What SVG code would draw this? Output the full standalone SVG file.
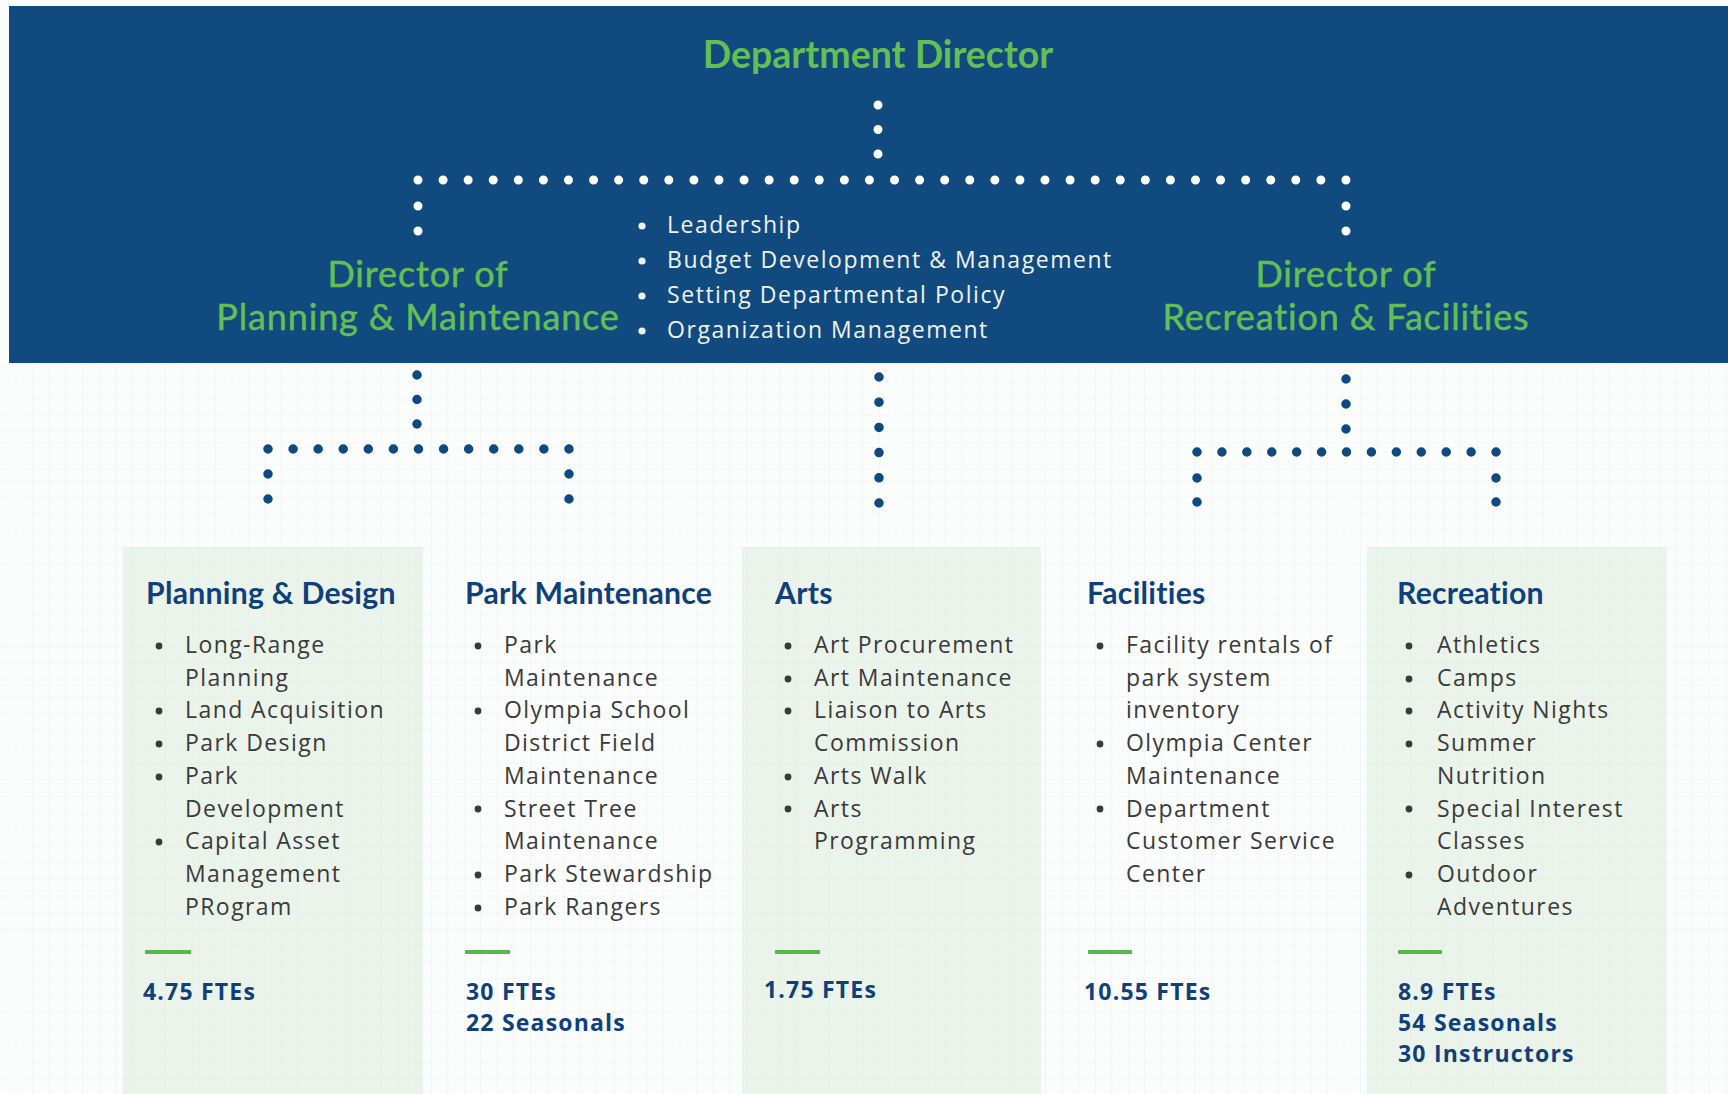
<svg xmlns="http://www.w3.org/2000/svg" width="1728" height="1094" viewBox="0 0 1728 1094">
  <defs>
    <pattern id="grid" width="16.6" height="16.6" patternUnits="userSpaceOnUse">
      <path d="M16.6 0V16.6H0" fill="none" stroke="#dfe5ea" stroke-width="1" opacity="0.55"/>
    </pattern>
    <style>
      .title { font-family: Lato, "Liberation Sans", sans-serif; fill: #62bf55; }
      .sub { stroke: #62bf55; stroke-width: 0.5px; }
      .lead { font-family: "Open Sans", "Liberation Sans", sans-serif; font-size: 23px; letter-spacing: 1.55px; fill: #eef2f7; }
      .head { font-family: Lato, "Liberation Sans", sans-serif; font-weight: 700; font-size: 30.2px; letter-spacing: 0.25px; fill: #0f3f7c; }
      .item { font-family: "Open Sans", "Liberation Sans", sans-serif; font-size: 23px; letter-spacing: 1.42px; fill: #3a3a3a; }
      .fte { font-family: "Open Sans", "Liberation Sans", sans-serif; font-weight: 700; font-size: 23px; letter-spacing: 1.2px; fill: #10407c; }
      .bul { fill: #3a3a3a; }
      .wbul { fill: #eef2f7; }
      .rule { stroke: #55b94f; stroke-width: 4; }
      .col { fill: #ebf4ea; }
      .wdots { fill: none; stroke: #ffffff; stroke-width: 9; stroke-linecap: round; }
      .bdots { fill: none; stroke: #0e4a82; stroke-width: 9.5; stroke-linecap: round; }
    </style>
  </defs>

  <!-- page background and grid -->
  <rect x="0" y="0" width="1728" height="1094" fill="#fbfcfc"/>
  <rect class="col" x="123" y="547" width="300" height="547"/>
  <rect class="col" x="742" y="547" width="299" height="547"/>
  <rect class="col" x="1367" y="547" width="300" height="547"/>
  <rect x="0" y="363" width="1728" height="731" fill="url(#grid)"/>

  <!-- header band -->
  <rect x="9" y="6" width="1719" height="357" fill="#114a7e"/>

  <!-- connectors: each dotted run is a zero-length dash pattern, extended
       a little past the last dot so the final dot is always drawn -->
  <g id="connectors">
    <path class="wdots" d="M878 105V155" stroke-dasharray="0 24.5"/>
    <path class="wdots" d="M418 180H1347" stroke-dasharray="0 25.08"/>
    <path class="wdots" d="M418 206V232" stroke-dasharray="0 25"/>
    <path class="wdots" d="M1346 206V232" stroke-dasharray="0 25"/>

    <path class="bdots" d="M417 375V425" stroke-dasharray="0 24.5"/>
    <path class="bdots" d="M268 449H570" stroke-dasharray="0 25.08"/>
    <path class="bdots" d="M268 474V500" stroke-dasharray="0 25"/>
    <path class="bdots" d="M569 474V500" stroke-dasharray="0 25"/>

    <path class="bdots" d="M879 377V504" stroke-dasharray="0 25.2"/>

    <path class="bdots" d="M1346 379V430" stroke-dasharray="0 25"/>
    <path class="bdots" d="M1197 452H1497" stroke-dasharray="0 24.92"/>
    <path class="bdots" d="M1197 478V503" stroke-dasharray="0 24"/>
    <path class="bdots" d="M1496 478V503" stroke-dasharray="0 24"/>
  </g>

  <!-- top level -->
  <g id="department-director">
    <text class="title" x="878" y="68" font-size="37.5" font-weight="700" text-anchor="middle">Department Director</text>
  </g>

  <g id="director-planning">
    <text class="title sub" x="418" y="286.5" font-size="36" letter-spacing="0.85" text-anchor="middle">Director of</text>
    <text class="title sub" x="418" y="330" font-size="36" letter-spacing="0.85" text-anchor="middle">Planning &amp; Maintenance</text>
  </g>

  <g id="director-recreation">
    <text class="title sub" x="1346" y="286.5" font-size="36" letter-spacing="0.85" text-anchor="middle">Director of</text>
    <text class="title sub" x="1346" y="330" font-size="36" letter-spacing="0.85" text-anchor="middle">Recreation &amp; Facilities</text>
  </g>

  <g id="director-duties">
    <circle class="wbul" cx="642" cy="226" r="3.6"/>
    <circle class="wbul" cx="642" cy="261" r="3.6"/>
    <circle class="wbul" cx="642" cy="296" r="3.6"/>
    <circle class="wbul" cx="642" cy="331" r="3.6"/>
    <text class="lead" x="667" y="233">Leadership</text>
    <text class="lead" x="667" y="268">Budget Development &amp; Management</text>
    <text class="lead" x="667" y="303">Setting Departmental Policy</text>
    <text class="lead" x="667" y="338">Organization Management</text>
  </g>

  <!-- divisions -->
  <g id="planning-design">
    <text class="head" x="146" y="604">Planning &amp; Design</text>
    <circle class="bul" cx="159" cy="646" r="3.4"/>
    <circle class="bul" cx="159" cy="711" r="3.4"/>
    <circle class="bul" cx="159" cy="744" r="3.4"/>
    <circle class="bul" cx="159" cy="777" r="3.4"/>
    <circle class="bul" cx="159" cy="842" r="3.4"/>
    <text class="item" x="185" y="653">Long-Range</text>
    <text class="item" x="185" y="686">Planning</text>
    <text class="item" x="185" y="718">Land Acquisition</text>
    <text class="item" x="185" y="751">Park Design</text>
    <text class="item" x="185" y="784">Park</text>
    <text class="item" x="185" y="817">Development</text>
    <text class="item" x="185" y="849">Capital Asset</text>
    <text class="item" x="185" y="882">Management</text>
    <text class="item" x="185" y="915">PRogram</text>
    <line class="rule" x1="145" y1="952" x2="191" y2="952"/>
    <text class="fte" x="143" y="1000">4.75 FTEs</text>
  </g>

  <g id="park-maintenance">
    <text class="head" x="465" y="604">Park Maintenance</text>
    <circle class="bul" cx="478" cy="646" r="3.4"/>
    <circle class="bul" cx="478" cy="711" r="3.4"/>
    <circle class="bul" cx="478" cy="809" r="3.4"/>
    <circle class="bul" cx="478" cy="875" r="3.4"/>
    <circle class="bul" cx="478" cy="908" r="3.4"/>
    <text class="item" x="504" y="653">Park</text>
    <text class="item" x="504" y="686">Maintenance</text>
    <text class="item" x="504" y="718">Olympia School</text>
    <text class="item" x="504" y="751">District Field</text>
    <text class="item" x="504" y="784">Maintenance</text>
    <text class="item" x="504" y="817">Street Tree</text>
    <text class="item" x="504" y="849">Maintenance</text>
    <text class="item" x="504" y="882">Park Stewardship</text>
    <text class="item" x="504" y="915">Park Rangers</text>
    <line class="rule" x1="465" y1="952" x2="510" y2="952"/>
    <text class="fte" x="466" y="1000">30 FTEs</text>
    <text class="fte" x="466" y="1031">22 Seasonals</text>
  </g>

  <g id="arts">
    <text class="head" x="775" y="604">Arts</text>
    <circle class="bul" cx="788" cy="646" r="3.4"/>
    <circle class="bul" cx="788" cy="679" r="3.4"/>
    <circle class="bul" cx="788" cy="711" r="3.4"/>
    <circle class="bul" cx="788" cy="777" r="3.4"/>
    <circle class="bul" cx="788" cy="809" r="3.4"/>
    <text class="item" x="814" y="653">Art Procurement</text>
    <text class="item" x="814" y="686">Art Maintenance</text>
    <text class="item" x="814" y="718">Liaison to Arts</text>
    <text class="item" x="814" y="751">Commission</text>
    <text class="item" x="814" y="784">Arts Walk</text>
    <text class="item" x="814" y="817">Arts</text>
    <text class="item" x="814" y="849">Programming</text>
    <line class="rule" x1="775" y1="952" x2="820" y2="952"/>
    <text class="fte" x="764" y="998">1.75 FTEs</text>
  </g>

  <g id="facilities">
    <text class="head" x="1087" y="604">Facilities</text>
    <circle class="bul" cx="1100" cy="646" r="3.4"/>
    <circle class="bul" cx="1100" cy="744" r="3.4"/>
    <circle class="bul" cx="1100" cy="809" r="3.4"/>
    <text class="item" x="1126" y="653">Facility rentals of</text>
    <text class="item" x="1126" y="686">park system</text>
    <text class="item" x="1126" y="718">inventory</text>
    <text class="item" x="1126" y="751">Olympia Center</text>
    <text class="item" x="1126" y="784">Maintenance</text>
    <text class="item" x="1126" y="817">Department</text>
    <text class="item" x="1126" y="849">Customer Service</text>
    <text class="item" x="1126" y="882">Center</text>
    <line class="rule" x1="1088" y1="952" x2="1132" y2="952"/>
    <text class="fte" x="1084" y="1000">10.55 FTEs</text>
  </g>

  <g id="recreation">
    <text class="head" x="1397" y="604">Recreation</text>
    <circle class="bul" cx="1409" cy="646" r="3.4"/>
    <circle class="bul" cx="1409" cy="679" r="3.4"/>
    <circle class="bul" cx="1409" cy="711" r="3.4"/>
    <circle class="bul" cx="1409" cy="744" r="3.4"/>
    <circle class="bul" cx="1409" cy="809" r="3.4"/>
    <circle class="bul" cx="1409" cy="875" r="3.4"/>
    <text class="item" x="1437" y="653">Athletics</text>
    <text class="item" x="1437" y="686">Camps</text>
    <text class="item" x="1437" y="718">Activity Nights</text>
    <text class="item" x="1437" y="751">Summer</text>
    <text class="item" x="1437" y="784">Nutrition</text>
    <text class="item" x="1437" y="817">Special Interest</text>
    <text class="item" x="1437" y="849">Classes</text>
    <text class="item" x="1437" y="882">Outdoor</text>
    <text class="item" x="1437" y="915">Adventures</text>
    <line class="rule" x1="1398" y1="952" x2="1442" y2="952"/>
    <text class="fte" x="1398" y="1000">8.9 FTEs</text>
    <text class="fte" x="1398" y="1031">54 Seasonals</text>
    <text class="fte" x="1398" y="1062">30 Instructors</text>
  </g>
</svg>
